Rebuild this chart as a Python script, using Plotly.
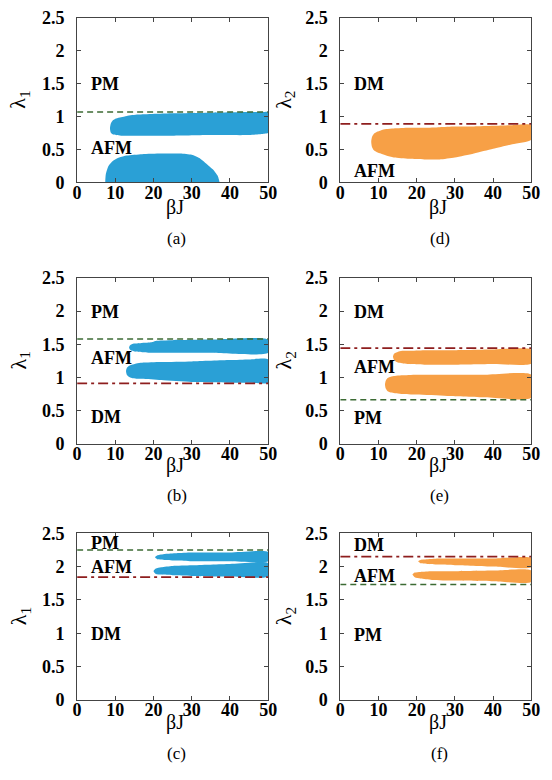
import plotly.graph_objects as go

W, H = 552, 780
BLUE = "#2AA0D6"
ORANGE = "#F7A046"
GREEN = "#3C6B34"
RED = "#8E1E1E"

X_TICKS = [0, 10, 20, 30, 40, 50]
Y_TICKS = [0, 0.5, 1, 1.5, 2, 2.5]
Y_TICK_TEXT = ["0", "0.5", "1", "1.5", "2", "2.5"]

# ---- panel (a) ----
A1_X = [8.6, 8.8, 9.3, 10.2, 11.5, 13, 16, 25, 35, 45, 49, 50]
A1_TOP = [0.82, 0.89, 0.94, 0.97, 0.99, 1.01, 1.03, 1.05, 1.06, 1.07, 1.07, 1.07]
A1_BOT = [0.82, 0.76, 0.73, 0.72, 0.71, 0.71, 0.71, 0.71, 0.72, 0.72, 0.74, 0.75]
A2_X = [7.4, 7.5, 8.2, 9.4, 11, 13, 17, 22, 27, 30, 32, 33.5, 35.5, 36.8, 37.3]
A2_TOP = [0.0, 0.12, 0.25, 0.33, 0.38, 0.41, 0.43, 0.44, 0.44, 0.42, 0.37, 0.30, 0.20, 0.10, 0.0]
A2_BOT = [0.0] * 15
# ---- panel (b) ----
B1_X = [13.6, 13.8, 14.3, 15, 17, 19.5, 20.5, 25, 35, 50]
B1_TOP = [1.45, 1.48, 1.50, 1.51, 1.52, 1.53, 1.55, 1.56, 1.57, 1.57]
B1_BOT = [1.45, 1.42, 1.40, 1.39, 1.38, 1.37, 1.37, 1.37, 1.37, 1.37]
B2_X = [12.8, 13.0, 13.5, 14.3, 15.5, 17, 22, 30, 40, 45, 50]
B2_TOP = [1.09, 1.14, 1.17, 1.19, 1.21, 1.22, 1.23, 1.24, 1.26, 1.27, 1.27]
B2_BOT = [1.09, 1.04, 1.01, 0.99, 0.98, 0.98, 0.96, 0.93, 0.92, 0.92, 0.92]
# ---- panel (c) ----
C1_X = [20.4, 21, 23, 26, 30, 40, 50]
C1_TOP = [2.14, 2.17, 2.19, 2.20, 2.21, 2.21, 2.22]
C1_BOT = [2.14, 2.11, 2.10, 2.09, 2.08, 2.08, 2.08]
C2_X = [20.0, 20.6, 22, 25, 30, 40, 50]
C2_TOP = [1.93, 1.97, 1.99, 2.01, 2.02, 2.04, 2.05]
C2_BOT = [1.93, 1.89, 1.88, 1.87, 1.86, 1.85, 1.85]
# ---- panel (d) ----
D1_X = [8.1, 8.3, 8.8, 9.6, 10.6, 12, 14, 18, 22, 26, 30, 35, 40, 45, 50]
D1_TOP = [0.62, 0.69, 0.74, 0.77, 0.79, 0.81, 0.82, 0.83, 0.83, 0.84, 0.85, 0.85, 0.86, 0.87, 0.87]
D1_BOT = [0.62, 0.54, 0.49, 0.46, 0.44, 0.41, 0.38, 0.36, 0.35, 0.35, 0.38, 0.44, 0.51, 0.58, 0.65]
# ---- panel (e) ----
E1_X = [13.8, 14.0, 14.5, 15.3, 16.5, 18, 22, 30, 40, 50]
E1_TOP = [1.31, 1.35, 1.37, 1.39, 1.40, 1.40, 1.41, 1.41, 1.42, 1.42]
E1_BOT = [1.31, 1.27, 1.24, 1.22, 1.21, 1.20, 1.19, 1.19, 1.20, 1.21]
E2_X = [11.7, 11.9, 12.4, 13.2, 14.3, 16, 20, 28, 38, 50]
E2_TOP = [0.89, 0.95, 0.99, 1.01, 1.02, 1.03, 1.04, 1.04, 1.04, 1.04]
E2_BOT = [0.89, 0.83, 0.79, 0.77, 0.76, 0.75, 0.74, 0.72, 0.70, 0.69]
# ---- panel (f) ----
F1_X = [20.4, 21, 23, 26, 30, 40, 50]
F1_TOP = [2.08, 2.10, 2.11, 2.12, 2.12, 2.12, 2.13]
F1_BOT = [2.08, 2.05, 2.04, 2.03, 2.02, 2.00, 1.99]
F2_X = [18.9, 19.5, 21, 24, 30, 40, 50]
F2_TOP = [1.88, 1.91, 1.92, 1.93, 1.93, 1.94, 1.94]
F2_BOT = [1.88, 1.84, 1.82, 1.80, 1.79, 1.78, 1.77]

# boundary lines: (value, kind)
LINES_A = [(1.07, "green")]
LINES_B = [(1.58, "green"), (0.91, "red")]
LINES_C = [(2.25, "green"), (1.84, "red")]
LINES_D = [(0.89, "red")]
LINES_E = [(1.44, "red"), (0.66, "green")]
LINES_F = [(2.15, "red"), (1.73, "green")]

# phase labels: (text, y)
LABELS_A = [("PM", 1.5), ("AFM", 0.52)]
LABELS_B = [("PM", 1.99), ("AFM", 1.29), ("DM", 0.4)]
LABELS_C = [("PM", 2.35), ("AFM", 1.99), ("DM", 0.99)]
LABELS_D = [("DM", 1.49), ("AFM", 0.18)]
LABELS_E = [("DM", 1.98), ("AFM", 1.16), ("PM", 0.38)]
LABELS_F = [("DM", 2.33), ("AFM", 1.86), ("PM", 0.97)]

# pixel layout of panels
COLS = [(74, 270), (344, 540)]
ROWS = [(8, 177), (275, 445), (537, 708)]
XLAB_Y = [203, 467, 731]
NAME_Y = [235, 498, 763]

panels = [
    dict(col=0, row=0, color=BLUE, blobs=[(A1_X, A1_TOP, A1_BOT), (A2_X, A2_TOP, A2_BOT)],
         lines=LINES_A, labels=LABELS_A, name="(a)", ylab="λ<sub>1</sub>"),
    dict(col=0, row=1, color=BLUE, blobs=[(B1_X, B1_TOP, B1_BOT), (B2_X, B2_TOP, B2_BOT)],
         lines=LINES_B, labels=LABELS_B, name="(b)", ylab="λ<sub>1</sub>"),
    dict(col=0, row=2, color=BLUE, blobs=[(C1_X, C1_TOP, C1_BOT), (C2_X, C2_TOP, C2_BOT)],
         lines=LINES_C, labels=LABELS_C, name="(c)", ylab="λ<sub>1</sub>"),
    dict(col=1, row=0, color=ORANGE, blobs=[(D1_X, D1_TOP, D1_BOT)],
         lines=LINES_D, labels=LABELS_D, name="(d)", ylab="λ<sub>2</sub>"),
    dict(col=1, row=1, color=ORANGE, blobs=[(E1_X, E1_TOP, E1_BOT), (E2_X, E2_TOP, E2_BOT)],
         lines=LINES_E, labels=LABELS_E, name="(e)", ylab="λ<sub>2</sub>"),
    dict(col=1, row=2, color=ORANGE, blobs=[(F1_X, F1_TOP, F1_BOT), (F2_X, F2_TOP, F2_BOT)],
         lines=LINES_F, labels=LABELS_F, name="(f)", ylab="λ<sub>2</sub>"),
]

SERIF = "Liberation Serif, Times New Roman, Times, serif"

def px(x):
    return x / W

def py(y):
    return 1 - y / H

fig = go.Figure()
annotations = []
layout = dict(width=W, height=H, margin=dict(l=0, r=0, t=0, b=0),
              paper_bgcolor="white", plot_bgcolor="white", showlegend=False)

for i, p in enumerate(panels, start=1):
    xa = "x" if i == 1 else f"x{i}"
    ya = "y" if i == 1 else f"y{i}"
    x0, x1 = COLS[p["col"]]
    y0, y1 = ROWS[p["row"]]
    axcommon = dict(showline=True, linecolor="#444", linewidth=1, mirror="ticks",
                    ticks="inside", ticklen=4, tickcolor="#444", showgrid=False,
                    zeroline=False, tickfont=dict(family=SERIF, size=18, color="black", weight="bold"))
    layout["xaxis" if i == 1 else f"xaxis{i}"] = dict(
        domain=[px(x0), px(x1)], range=[0, 50], tickvals=X_TICKS, anchor=ya,
        ticklabelstandoff=-6, **axcommon)
    layout["yaxis" if i == 1 else f"yaxis{i}"] = dict(
        domain=[py(y1), py(y0)], range=[0, 2.5], tickvals=Y_TICKS, ticktext=Y_TICK_TEXT,
        anchor=xa, ticklabelstandoff=8, **axcommon)

    for bx, btop, bbot in p["blobs"]:
        xs = list(bx) + list(bx[::-1])
        ys = list(btop) + list(bbot[::-1])
        fig.add_trace(go.Scatter(x=xs, y=ys, fill="toself", fillcolor=p["color"],
                                 mode="lines", line=dict(width=0, color=p["color"], shape="spline", smoothing=0.6),
                                 xaxis=xa, yaxis=ya, hoverinfo="skip"))
    for val, kind in p["lines"]:
        if kind == "green":
            ln = dict(color=GREEN, width=1.5, dash="6px,4px")
        else:
            ln = dict(color=RED, width=1.8, dash="10px,4px,3px,4px")
        fig.add_trace(go.Scatter(x=[0, 50], y=[val, val], mode="lines", line=ln,
                                 xaxis=xa, yaxis=ya, hoverinfo="skip"))
    for txt, yv in p["labels"]:
        annotations.append(dict(text=txt, x=3, y=yv, xref=xa, yref=ya, xanchor="left",
                                yanchor="middle", showarrow=False,
                                font=dict(family=SERIF, size=18, color="black", weight="bold")))
    cx = (x0 + x1) / 2
    annotations.append(dict(text="βJ", x=px(cx + 2), y=py(XLAB_Y[p["row"]]), xref="paper", yref="paper",
                            showarrow=False, xanchor="center", yanchor="middle",
                            font=dict(family=SERIF, size=20, color="black")))
    annotations.append(dict(text=p["name"], x=px(cx + 4), y=py(NAME_Y[p["row"]]), xref="paper", yref="paper",
                            showarrow=False, xanchor="center", yanchor="middle",
                            font=dict(family=SERIF, size=17, color="black")))
    ylab_x = 15 if p["col"] == 0 else 287
    annotations.append(dict(text=p["ylab"], x=px(ylab_x), y=py((y0 + y1) / 2), xref="paper", yref="paper",
                            showarrow=False, xanchor="center", yanchor="middle", textangle=-90,
                            font=dict(family=SERIF, size=22, color="black")))

layout["annotations"] = annotations
fig.update_layout(**layout)
fig.write_html("out.html")
